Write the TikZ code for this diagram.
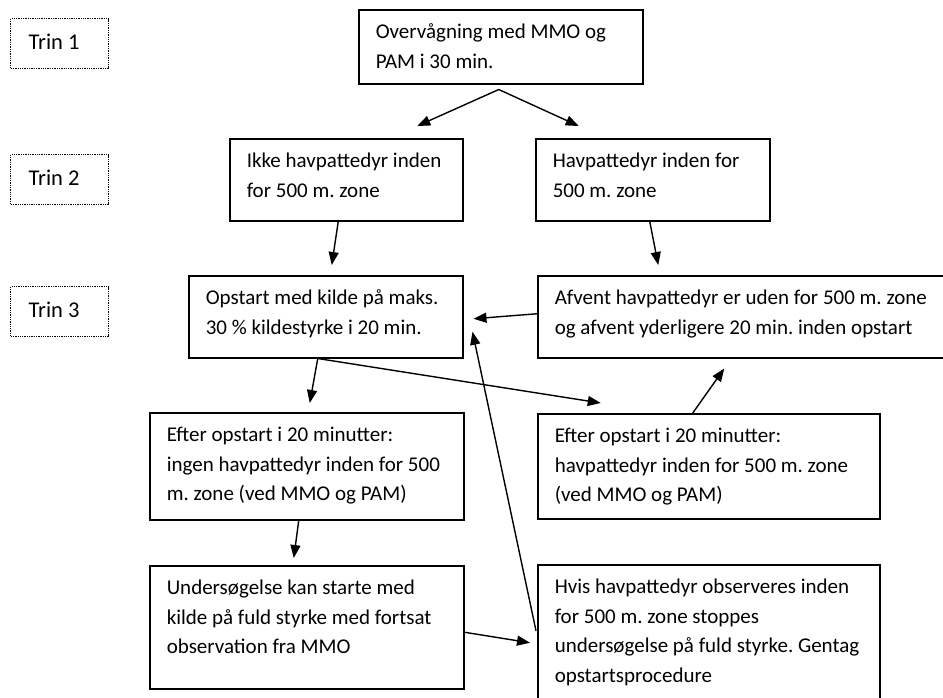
\documentclass[tikz,border=0pt]{standalone}
\usepackage{fontspec}
\setmainfont{Carlito}
\usetikzlibrary{arrows.meta}
\frenchspacing
\hyphenpenalty=10000
\exhyphenpenalty=10000

\begin{document}
\begin{tikzpicture}[x=1pt, y=-1pt,
  box/.style={draw, line width=1.5pt, anchor=north west, align=flush left, inner xsep=17pt, inner ysep=0pt, text height=29pt, font=\fontsize{21}{29.5}\selectfont},
  trin/.style={draw, densely dotted, line width=1.3pt, anchor=north west, align=flush left, inner xsep=18pt, inner ysep=0pt, text width=62pt, text height=31pt, text depth=19pt, font=\fontsize{22.5}{29}\selectfont},
  arr/.style={-{Triangle[length=13pt,width=10pt]}, line width=1.4pt}]
\useasboundingbox[fill=white] (0,0) rectangle (943,697);
\clip (0,0) rectangle (943,697);

\node[trin] (T1) at (10,18) {Trin 1};
\node[trin] (T2) at (10,154) {Trin 2};
\node[trin] (T3) at (10,286) {Trin 3};

\node[box, text width=250pt, text depth=45pt] (mon) at (358,9) {Overvågning med MMO og\\PAM i 30 min.};
\node[box, text width=199pt, text depth=53pt] (ikke) at (229,138) {Ikke havpattedyr inden\\for 500 m. zone};
\node[box, text width=200pt, text depth=53pt] (hav) at (535,138) {Havpattedyr inden for\\500 m. zone};
\node[box, text width=240pt, text depth=53pt] (opstart) at (188,275) {Opstart med kilde på maks.\\30 \% kildestyrke i 20 min.};
\node[box, text width=375pt, text depth=53pt] (afvent) at (537,275) {Afvent havpattedyr er uden for 500 m. zone\\og afvent yderligere 20 min. inden opstart};
\node[box, text width=280pt, text depth=78pt] (efterA) at (149,412) {Efter opstart i 20 minutter:\\ingen havpattedyr inden for 500\\m. zone (ved MMO og PAM)};
\node[box, text width=308pt, text depth=76pt] (efterB) at (537,413) {Efter opstart i 20 minutter:\\havpattedyr inden for 500 m. zone\\(ved MMO og PAM)};
\node[box, text width=280pt, text depth=94pt] (unders) at (149,565) {Undersøgelse kan starte med\\kilde på fuld styrke med fortsat\\observation fra MMO};
\node[box, text width=308pt, text depth=121pt] (hvis) at (537,564) {Hvis havpattedyr observeres inden\\for 500 m. zone stoppes\\undersøgelse på fuld styrke. Gentag\\opstartsprocedure};

\path[arr] ([xshift=-2pt,yshift=-5pt]mon.south) edge ([xshift=71pt,yshift=12pt]ikke.north);
\path[arr] ([xshift=-2pt,yshift=-5pt]mon.south) edge ([xshift=-74pt,yshift=12pt]hav.north);
\path[arr] ([xshift=-8pt]ikke.south) edge ([xshift=6pt,yshift=10pt]opstart.north);
\path[arr] ([xshift=-3pt]hav.south) edge ([xshift=-84pt,yshift=10pt]afvent.north);
\path[arr] ([yshift=3pt]afvent.west) edge ([xshift=10pt,yshift=-2pt]opstart.east);
\path[arr] ([xshift=-8pt]opstart.south) edge ([xshift=3pt,yshift=9pt]efterA.north);
\path[arr] ([xshift=-8pt]opstart.south) edge ([xshift=-108pt,yshift=10pt]efterB.north);
\path[arr] ([xshift=-16pt]efterB.north) edge ([xshift=-18pt,yshift=-10pt]afvent.south);
\path[arr] ([xshift=-8pt]efterA.south) edge ([xshift=-13pt,yshift=7pt]unders.north);
\path[arr] ([yshift=-5pt]unders.east) edge ([xshift=-7pt,yshift=-3pt]hvis.west);
\path[arr] ([xshift=-1pt,yshift=9pt]hvis.west) edge ([xshift=9pt,yshift=-15pt]opstart.east);

\end{tikzpicture}
\end{document}
